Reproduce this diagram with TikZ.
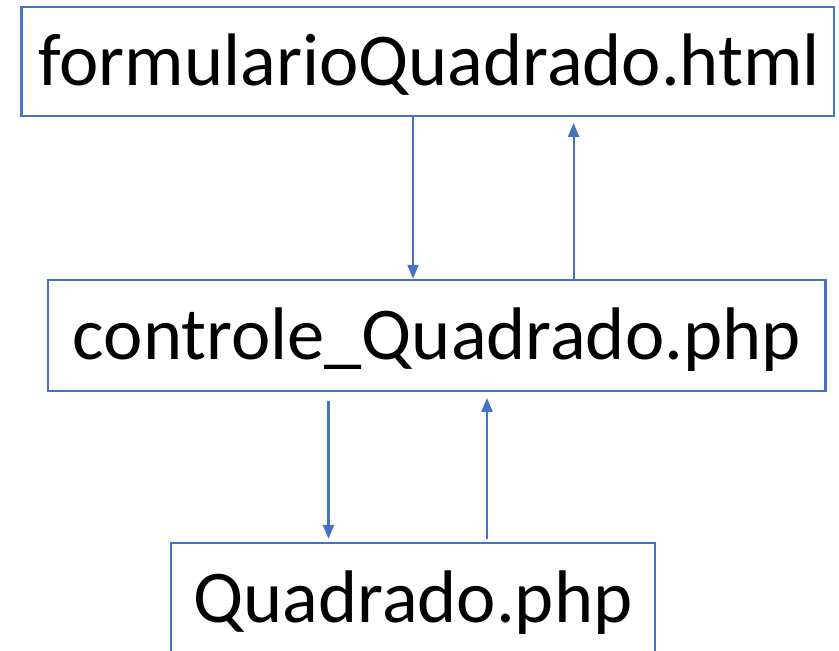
\documentclass[tikz,border=0pt]{standalone}
\usepackage{fontspec}
\setmainfont{Carlito}
\usetikzlibrary{arrows.meta}
\definecolor{boxblue}{HTML}{4472C4}
\tikzset{
  filebox/.style={draw=boxblue, line width=2.4pt, inner sep=0pt, text height=60pt, text depth=12pt,
    font=\fontsize{74.5}{80}\selectfont, anchor=center},
  arr/.style={draw=boxblue, line width=2.2pt, -{Triangle[length=14pt,width=11pt]}}
}
\begin{document}
\begin{tikzpicture}[x=1pt,y=-1pt]
\useasboundingbox (0,0) rectangle (839,651);
\clip (0,0) rectangle (839,651);
\node[filebox, minimum width=812.5pt, minimum height=109.3pt] (top) at (427.75,61.35) {\hspace*{3pt}formularioQuadrado.html};
\node[filebox, minimum width=777.6pt, minimum height=110.7pt] (mid) at (436.8,335.35) {controle\_Quadrado.php};
\node[filebox, minimum width=484pt, minimum height=110pt] (bot) at (413,598) {Quadrado.php};
\coordinate (a1) at (413,0);
\coordinate (a2) at (573.6,0);
\coordinate (a3) at (328.5,0);
\coordinate (a4) at (487,0);
\draw[arr] (top.south -| a1) -- (mid.north -| a1);
\draw[arr, shorten >=5.7pt] (mid.north -| a2) -- (top.south -| a2);
\draw[arr, shorten <=9.3pt, shorten >=3pt] (mid.south -| a3) -- (bot.north -| a3);
\draw[arr, shorten <=3pt, shorten >=6pt] (bot.north -| a4) -- (mid.south -| a4);
\end{tikzpicture}
\end{document}
